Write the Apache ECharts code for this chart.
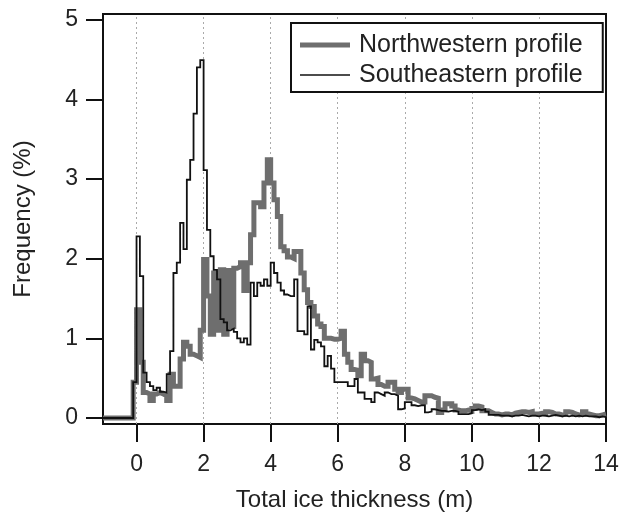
<!DOCTYPE html>
<html>
<head>
<meta charset="utf-8">
<script src="https://cdn.jsdelivr.net/npm/echarts@6/dist/echarts.min.js"></script>
<style>
html,body{margin:0;padding:0;background:#fff;}
#chart{width:619px;height:512px;}
</style>
</head>
<body>
<div id="chart"></div>
<script>
// Bin left edges run from -1.0 m to 13.9 m in 0.1 m steps (150 bins), final edge 14.0 m
var binStart = -1.0;
var binWidth = 0.1;

// Northwestern profile frequency (%) per 0.1 m bin
var northwestern = [
  0,0,0,0,0,0,0,0,0,0.45,
  1.36,0.70,0.32,0.30,0.22,0.30,0.32,0.30,0.28,0.22,
  0.55,0.40,0.40,0.74,0.95,0.90,0.80,0.78,0.76,1.10,
  1.99,1.53,1.05,1.82,1.10,1.86,1.05,1.85,1.15,1.88,
  1.90,1.95,1.60,1.95,2.30,2.70,2.70,2.65,2.95,3.24,
  2.95,2.74,2.53,2.15,2.10,2.02,2.00,2.09,2.09,1.82,
  1.61,1.45,1.40,1.28,1.18,1.15,1.00,1.00,0.99,0.99,
  1.00,1.09,0.80,0.70,0.61,0.60,0.53,0.80,0.72,0.70,
  0.49,0.50,0.42,0.40,0.40,0.45,0.45,0.36,0.32,0.36,
  0.36,0.25,0.24,0.22,0.20,0.20,0.28,0.28,0.26,0.25,
  0.07,0.10,0.18,0.18,0.15,0.10,0.09,0.09,0.10,0.09,
  0.12,0.15,0.14,0.09,0.09,0.07,0.05,0.05,0.04,0.05,
  0.05,0.04,0.06,0.07,0.08,0.08,0.07,0.08,0.05,0.05,
  0.06,0.05,0.08,0.07,0.05,0.05,0.04,0.05,0.08,0.07,
  0.05,0.04,0.05,0.08,0.05,0.04,0.03,0.03,0.04,0.05
];

// Southeastern profile frequency (%) per 0.1 m bin
var southeastern = [
  0,0,0,0,0,0,0,0,0,0.45,
  2.28,1.78,0.57,0.45,0.40,0.35,0.38,0.33,0.32,0.55,
  0.84,1.82,1.95,2.45,2.12,2.99,3.24,3.82,4.40,4.49,
  3.11,2.36,2.03,1.86,1.74,1.24,1.20,1.10,1.12,1.08,
  1.00,0.95,1.00,0.92,1.70,1.53,1.70,1.66,1.74,1.66,
  1.95,1.82,1.70,1.60,1.55,1.53,1.53,1.74,1.09,1.09,
  1.05,1.40,0.86,0.98,0.95,0.90,0.65,0.78,0.62,0.45,
  0.45,0.45,0.45,0.40,0.40,0.49,0.32,0.32,0.24,0.24,
  0.20,0.32,0.30,0.28,0.32,0.30,0.30,0.28,0.11,0.12,
  0.20,0.20,0.16,0.15,0.16,0.16,0.07,0.08,0.11,0.10,
  0.09,0.09,0.08,0.09,0.09,0.08,0.05,0.05,0.05,0.06,
  0.10,0.11,0.10,0.11,0.08,0.04,0.04,0.04,0.03,0.03,
  0.03,0.02,0.03,0.03,0.04,0.03,0.02,0.03,0.03,0.02,
  0.03,0.03,0.02,0.03,0.04,0.03,0.02,0.03,0.02,0.03,
  0.02,0.03,0.02,0.03,0.02,0.02,0.02,0.01,0.02,0.01
];

var xTicks = [0, 2, 4, 6, 8, 10, 12, 14];
var yTicks = [0, 1, 2, 3, 4, 5];
var gridLinesAt = [0, 2, 4, 6, 8, 10, 12];

function toSteps(vals) {
  var pts = [];
  for (var i = 0; i < vals.length; i++) {
    var x = Math.round((binStart + i * binWidth) * 10) / 10;
    pts.push([x, vals[i]]);
  }
  var endX = Math.round((binStart + vals.length * binWidth) * 10) / 10;
  pts.push([endX, vals[vals.length - 1]]);
  return pts;
}

var fontFam = '"Liberation Sans", Arial, Helvetica, sans-serif';
var chart = echarts.init(document.getElementById('chart'), null, {renderer: 'canvas'});

chart.setOption({
  animation: false,
  backgroundColor: '#fff',
  textStyle: {fontFamily: fontFam},
  grid: {
    left: 103, right: 13, top: 14, bottom: 88,
    containLabel: false, outerBoundsMode: 'none',
    show: true, borderColor: '#111', borderWidth: 2, backgroundColor: 'transparent'
  },
  legend: {
    orient: 'vertical',
    left: 291, top: 23,
    padding: [8, 20, 3, 9],
    itemGap: 2,
    itemWidth: 50,
    itemHeight: 14,
    borderColor: '#111', borderWidth: 2,
    backgroundColor: '#fff',
    textStyle: {fontSize: 25, lineHeight: 28, color: '#222', fontFamily: fontFam, padding: [0, 0, 0, 4]},
    data: [
      {name: 'Northwestern profile', icon: 'path://M0,0 L50,0 L50,5 L0,5 Z', itemStyle: {color: '#6e6e6e'}},
      {name: 'Southeastern profile', icon: 'path://M0,0 L50,0 L50,1.6 L0,1.6 Z', itemStyle: {color: '#111'}}
    ]
  },
  xAxis: {
    type: 'value', min: -1, max: 14,
    axisLine: {show: true, onZero: false, lineStyle: {color: '#111', width: 2}},
    axisTick: {show: true, length: 18, customValues: xTicks, lineStyle: {color: '#111', width: 2}},
    axisLabel: {customValues: xTicks, margin: 29, fontSize: 23, color: '#222', fontFamily: fontFam},
    splitLine: {show: false},
    name: 'Total ice thickness (m)', nameLocation: 'middle', nameGap: 64,
    nameTextStyle: {fontSize: 24, color: '#222', fontFamily: fontFam}
  },
  yAxis: {
    type: 'value', min: -0.075, max: 5.07,
    axisLine: {show: true, onZero: false, lineStyle: {color: '#111', width: 2}},
    axisTick: {show: true, length: 17, customValues: yTicks, lineStyle: {color: '#111', width: 2}},
    axisLabel: {customValues: yTicks, margin: 25, fontSize: 23, color: '#222', fontFamily: fontFam},
    splitLine: {show: false},
    name: 'Frequency (%)', nameLocation: 'middle', nameGap: 68,
    nameTextStyle: {fontSize: 24, color: '#222', fontFamily: fontFam}
  },
  series: [
    {
      name: 'Northwestern profile', type: 'line', step: 'end',
      data: toSteps(northwestern),
      symbol: 'none', showSymbol: false,
      lineStyle: {color: '#6e6e6e', width: 5, join: 'miter'},
      itemStyle: {color: '#6e6e6e'},
      z: 2,
      markLine: {
        silent: true, symbol: ['none', 'none'], label: {show: false},
        lineStyle: {color: '#aaa', type: [2, 3], width: 1},
        data: gridLinesAt.map(function (v) { return {xAxis: v}; }),
        z: 1
      }
    },
    {
      name: 'Southeastern profile', type: 'line', step: 'end',
      data: toSteps(southeastern),
      symbol: 'none', showSymbol: false,
      lineStyle: {color: '#111', width: 1.8, join: 'miter'},
      itemStyle: {color: '#111'},
      z: 3
    }
  ]
});
</script>
</body>
</html>
